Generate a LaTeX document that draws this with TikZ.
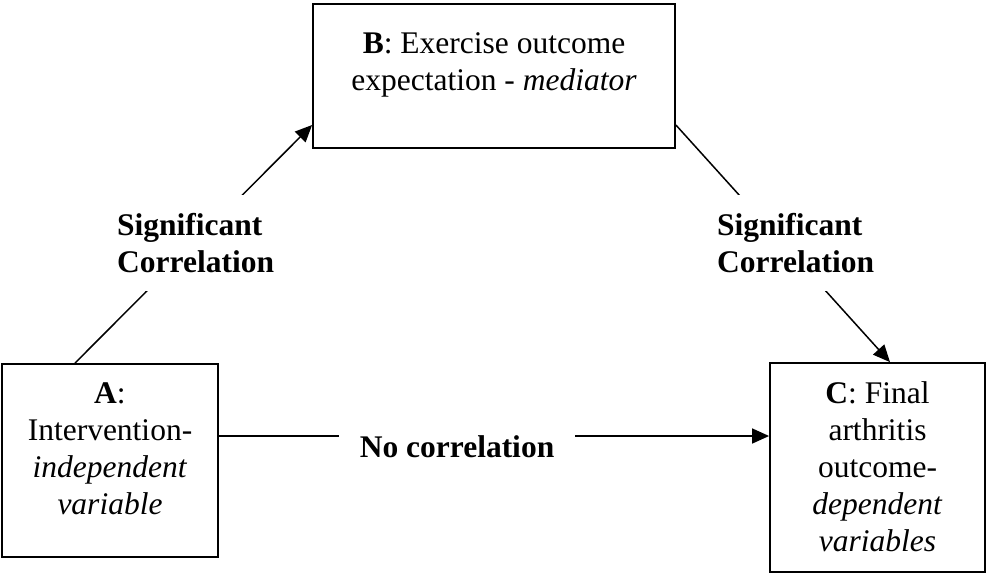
\documentclass[tikz,border=0pt]{standalone}
\usepackage{fontspec}
\setmainfont{Liberation Serif}
\usetikzlibrary{arrows.meta,calc}
\begin{document}
\begin{tikzpicture}[x=1pt,y=-1pt,
  box/.style={draw=black,line width=1.8pt,inner sep=0pt},
  boxtext/.style={align=center,inner sep=0pt,anchor=north,font=\fontsize{31.5}{37}\selectfont},
  conn/.style={draw=black,line width=1.5pt},
  arr/.style={conn,-{Triangle[length=17pt,width=15pt]}},
  lbl/.style={fill=white,align=left,font=\fontsize{31.5}{37}\selectfont\bfseries,inner xsep=2pt,inner ysep=18pt}]
\useasboundingbox (0,0) rectangle (986,582);
% boxes
\node[box,minimum width=216pt,minimum height=193pt] (A) at (110,460.5) {};
\node[box,minimum width=362pt,minimum height=144pt] (B) at (494,76) {};
\node[box,minimum width=215pt,minimum height=209pt] (C) at (877.5,467.5) {};
% box texts
\node[boxtext] (At) at (110,382) {\textbf{A}:\\Intervention-\\\textit{independent}\\\textit{variable}};
\node[boxtext] (Bt) at (494,32) {\textbf{B}: Exercise outcome\\expectation - \textit{mediator}};
\node[boxtext] (Ct) at (877.5,381) {\textbf{C}: Final\\arthritis\\outcome-\\\textit{dependent}\\\textit{variables}};
% connector end points
\coordinate (ab1) at ($(A.north)+(-35,0)$);
\coordinate (ab2) at ($(B.west)+(0,49)$);
\coordinate (bc1) at ($(B.east)+(0,49)$);
\coordinate (bc2) at ($(C.north)+(12.5,0)$);
\coordinate (ac1) at ($(A.east)+(0,-24.5)$);
% connectors
\draw[arr] (ab1) -- (ab2);
\draw[arr] (bc1) -- (bc2);
\draw[arr] (ac1) -- (ac1 -| C.west);
% labels covering the connectors
\node[lbl,anchor=north west] (L1) at (115,195) {Significant\\Correlation};
\node[lbl,anchor=north west] (L2) at (715,195) {Significant\\Correlation};
\node[lbl,anchor=base,inner xsep=21pt,inner ysep=6pt] (L3) at (457,457) {No correlation};
\end{tikzpicture}
\end{document}
